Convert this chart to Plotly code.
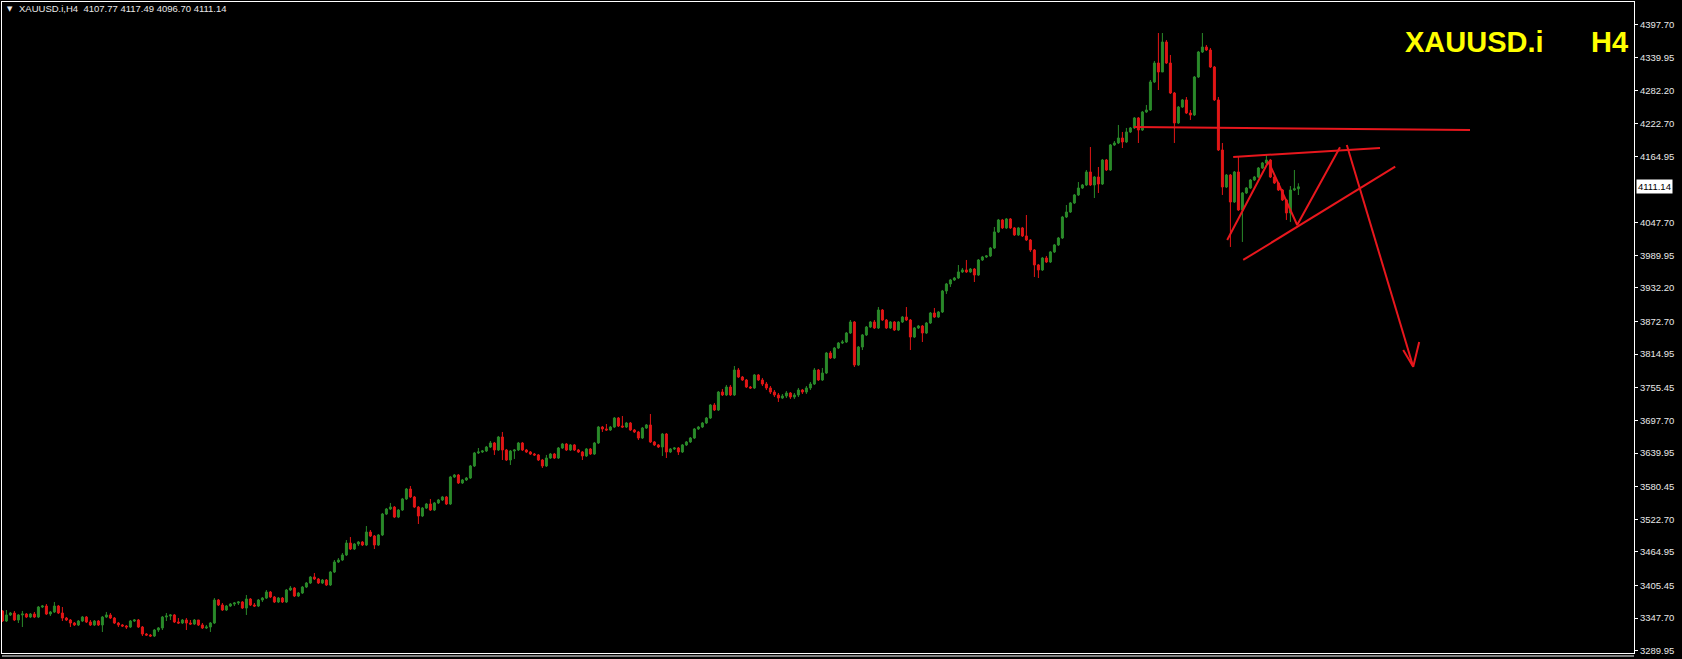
import plotly.graph_objects as go

symbol = "XAUUSD.i"
timeframe = "H4"
header_ohlc = ["4107.77", "4117.49", "4096.70", "4111.14"]
last_price = 4111.14
first_open = 3360.3

closes = [
    3342.5, 3353.2, 3356.7, 3344.3, 3353.2, 3354.9, 3349.6, 3354.9, 3349.6, 3367.3,
    3369.1, 3354.9, 3358.5, 3369.1, 3356.7, 3347.8, 3344.3, 3339.0, 3335.5, 3342.5,
    3349.6, 3340.8, 3335.5, 3342.5, 3335.5, 3349.6, 3353.2, 3347.8, 3339.0, 3335.5,
    3333.7, 3331.9, 3342.5, 3344.3, 3331.9, 3319.5, 3317.7, 3316.0, 3326.6, 3330.2,
    3349.6, 3351.4, 3353.2, 3340.8, 3339.0, 3344.3, 3339.0, 3337.2, 3344.3, 3335.5,
    3330.2, 3331.9, 3339.0, 3379.7, 3370.9, 3362.0, 3369.1, 3372.6, 3374.4, 3376.2,
    3365.5, 3381.5, 3370.9, 3369.1, 3379.7, 3383.2, 3393.9, 3385.0, 3376.2, 3383.2,
    3376.2, 3397.4, 3400.9, 3386.8, 3392.1, 3402.7, 3409.8, 3420.4, 3416.9, 3409.8,
    3415.1, 3406.3, 3429.3, 3447.0, 3450.5, 3459.4, 3480.6, 3470.0, 3478.8, 3482.4,
    3477.1, 3500.1, 3493.0, 3477.1, 3494.8, 3531.9, 3540.8, 3544.3, 3526.6, 3539.0,
    3558.6, 3576.2, 3562.1, 3544.3, 3528.4, 3542.5, 3549.7, 3539.0, 3551.5, 3556.8,
    3562.1, 3549.7, 3597.5, 3601.0, 3586.9, 3592.2, 3595.7, 3617.0, 3640.0, 3641.8,
    3643.5, 3650.6, 3657.7, 3645.3, 3668.3, 3645.3, 3627.6, 3643.5, 3645.3, 3657.7,
    3645.3, 3641.8, 3638.2, 3636.5, 3627.6, 3617.0, 3631.1, 3638.2, 3631.1, 3648.8,
    3655.9, 3645.3, 3654.2, 3645.3, 3641.8, 3634.7, 3647.1, 3638.2, 3657.7, 3686.0,
    3682.5, 3680.7, 3686.0, 3701.9, 3687.8, 3686.0, 3693.1, 3680.7, 3677.2, 3666.5,
    3684.2, 3689.6, 3659.5, 3654.2, 3650.6, 3673.6, 3641.8, 3647.1, 3648.8, 3641.8,
    3654.2, 3659.5, 3666.5, 3682.5, 3686.0, 3693.1, 3701.9, 3724.9, 3716.1, 3747.9,
    3742.7, 3756.8, 3742.7, 3786.9, 3774.5, 3769.2, 3756.8, 3755.1, 3778.1, 3769.2,
    3762.1, 3755.1, 3747.9, 3742.7, 3737.4, 3740.9, 3746.2, 3739.1, 3742.7, 3751.5,
    3747.9, 3755.1, 3762.1, 3786.9, 3769.2, 3781.6, 3817.0, 3808.2, 3825.8, 3834.7,
    3836.5, 3852.4, 3871.9, 3795.8, 3827.6, 3848.9, 3863.0, 3871.9, 3861.3, 3893.1,
    3875.4, 3861.3, 3871.9, 3857.7, 3871.9, 3880.7, 3875.4, 3845.3, 3861.3, 3864.8,
    3852.4, 3870.1, 3887.8, 3880.7, 3889.6, 3926.8, 3939.2, 3946.3, 3949.8, 3960.5,
    3964.0, 3960.5, 3965.7, 3955.1, 3981.7, 3987.0, 3988.8, 4002.9, 4031.3, 4052.5,
    4038.4, 4054.3, 4038.4, 4026.0, 4038.4, 4024.2, 4017.1, 3999.4, 3972.9, 3964.0,
    3985.2, 3978.1, 3995.9, 4008.3, 4020.6, 4057.8, 4066.6, 4082.6, 4096.8, 4109.1,
    4114.4, 4137.5, 4114.4, 4128.6, 4116.2, 4158.7, 4141.0, 4185.3, 4188.8, 4197.6,
    4190.6, 4208.3, 4215.4, 4233.1, 4211.8, 4243.7, 4247.2, 4296.8, 4330.4, 4314.5,
    4367.6, 4330.4, 4277.3, 4224.2, 4252.5, 4265.0, 4241.9, 4238.4, 4305.6, 4349.9,
    4358.7, 4353.4, 4323.3, 4265.0, 4176.4, 4110.9, 4132.1, 4084.3, 4137.5, 4070.2,
    4100.3, 4109.1, 4123.3, 4128.6, 4144.5, 4153.4, 4158.7, 4128.6, 4118.0, 4105.6,
    4087.9, 4064.9, 4105.6, 4107.77, 4111.14,
]

highs = [
    3362.0, 3362.0, 3358.5, 3360.3, 3354.9, 3360.3, 3356.7, 3356.7, 3358.5, 3369.1,
    3370.9, 3372.6, 3360.3, 3376.2, 3370.9, 3367.3, 3349.6, 3346.1, 3340.8, 3344.3,
    3351.4, 3351.4, 3344.3, 3344.3, 3344.3, 3351.4, 3358.5, 3356.7, 3349.6, 3340.8,
    3337.2, 3335.5, 3344.3, 3346.1, 3346.1, 3333.7, 3321.3, 3319.5, 3328.4, 3331.9,
    3351.4, 3356.7, 3354.9, 3354.9, 3347.8, 3346.1, 3347.8, 3344.3, 3346.1, 3344.3,
    3339.0, 3335.5, 3340.8, 3383.2, 3381.5, 3374.4, 3370.9, 3374.4, 3376.2, 3377.9,
    3377.9, 3388.6, 3383.2, 3374.4, 3381.5, 3385.0, 3397.4, 3395.6, 3386.8, 3385.0,
    3385.0, 3399.2, 3404.5, 3402.7, 3393.9, 3404.5, 3411.6, 3422.2, 3427.5, 3418.7,
    3416.9, 3416.9, 3431.0, 3450.5, 3454.0, 3462.9, 3485.9, 3491.2, 3480.6, 3484.1,
    3484.1, 3510.7, 3503.6, 3494.8, 3496.5, 3533.8, 3542.5, 3551.5, 3546.1, 3540.8,
    3560.4, 3578.0, 3581.5, 3563.9, 3546.1, 3544.3, 3551.5, 3558.6, 3553.2, 3558.6,
    3563.9, 3563.9, 3599.3, 3602.8, 3602.8, 3594.0, 3597.5, 3618.7, 3641.8, 3648.8,
    3645.3, 3652.4, 3661.2, 3659.5, 3670.1, 3677.2, 3647.1, 3645.3, 3647.1, 3659.5,
    3659.5, 3647.1, 3643.5, 3640.0, 3638.2, 3629.4, 3636.5, 3640.0, 3640.0, 3650.6,
    3657.7, 3657.7, 3655.9, 3655.9, 3647.1, 3643.5, 3648.8, 3648.8, 3659.5, 3687.8,
    3687.8, 3691.3, 3687.8, 3703.7, 3703.7, 3705.5, 3694.9, 3694.9, 3682.5, 3679.0,
    3686.0, 3691.3, 3709.0, 3661.2, 3655.9, 3675.4, 3675.4, 3648.8, 3650.6, 3650.6,
    3655.9, 3661.2, 3668.3, 3684.2, 3687.8, 3694.9, 3703.7, 3726.6, 3728.4, 3749.7,
    3753.3, 3760.4, 3760.4, 3794.0, 3790.5, 3776.3, 3771.0, 3758.6, 3779.8, 3779.8,
    3772.8, 3765.7, 3758.6, 3751.5, 3746.2, 3744.4, 3749.7, 3747.9, 3746.2, 3755.1,
    3753.3, 3758.6, 3765.7, 3790.5, 3788.7, 3790.5, 3818.8, 3820.5, 3827.6, 3836.5,
    3840.0, 3854.2, 3875.4, 3873.6, 3829.4, 3850.6, 3864.8, 3873.6, 3875.4, 3898.4,
    3894.9, 3877.2, 3873.6, 3873.6, 3873.6, 3882.5, 3898.4, 3877.2, 3863.0, 3866.6,
    3866.6, 3871.9, 3889.6, 3896.7, 3891.3, 3928.6, 3941.0, 3948.1, 3951.6, 3972.8,
    3967.5, 3981.7, 3967.5, 3967.5, 3983.4, 3988.8, 3990.5, 4004.7, 4040.1, 4054.3,
    4054.3, 4056.0, 4056.0, 4040.1, 4040.1, 4040.1, 4061.3, 4018.8, 4001.1, 3974.6,
    3987.0, 3988.8, 3997.6, 4010.0, 4022.4, 4059.6, 4079.0, 4084.3, 4098.5, 4119.7,
    4116.2, 4141.0, 4181.7, 4130.4, 4146.3, 4160.5, 4160.5, 4187.0, 4192.3, 4220.7,
    4208.3, 4215.4, 4217.1, 4234.8, 4234.8, 4245.5, 4256.1, 4300.3, 4334.0, 4383.5,
    4383.5, 4371.1, 4344.6, 4279.1, 4254.3, 4266.7, 4270.2, 4247.2, 4307.4, 4351.7,
    4383.5, 4362.3, 4357.0, 4325.1, 4270.2, 4188.8, 4133.9, 4133.9, 4139.2, 4164.0,
    4102.0, 4110.9, 4125.1, 4130.4, 4146.3, 4155.2, 4167.6, 4160.5, 4130.4, 4119.7,
    4107.4, 4089.7, 4112.6, 4141.0, 4117.49,
]

lows = [
    3340.8, 3340.8, 3351.4, 3342.5, 3339.0, 3331.9, 3347.8, 3347.8, 3347.8, 3347.8,
    3365.5, 3353.2, 3351.4, 3356.7, 3354.9, 3342.5, 3342.5, 3331.9, 3333.7, 3333.7,
    3340.8, 3339.0, 3333.7, 3333.7, 3333.7, 3323.1, 3347.8, 3346.1, 3337.2, 3331.9,
    3331.9, 3328.4, 3330.2, 3340.8, 3330.2, 3316.0, 3316.0, 3314.2, 3314.2, 3323.1,
    3326.6, 3342.5, 3344.3, 3339.0, 3337.2, 3337.2, 3326.6, 3335.5, 3335.5, 3333.7,
    3328.4, 3328.4, 3323.1, 3337.2, 3369.1, 3360.3, 3360.3, 3367.3, 3369.1, 3370.9,
    3363.8, 3353.2, 3369.1, 3367.3, 3367.3, 3376.2, 3381.5, 3383.2, 3374.4, 3374.4,
    3374.4, 3374.4, 3395.6, 3385.0, 3385.0, 3390.3, 3400.9, 3408.0, 3415.1, 3408.0,
    3408.0, 3404.5, 3404.5, 3427.5, 3445.2, 3448.7, 3457.6, 3468.2, 3468.2, 3475.3,
    3475.3, 3475.3, 3491.2, 3470.0, 3475.3, 3493.0, 3530.1, 3539.0, 3524.8, 3524.8,
    3537.3, 3556.8, 3560.4, 3542.5, 3514.3, 3526.6, 3540.8, 3537.3, 3537.3, 3549.7,
    3555.0, 3547.9, 3547.9, 3595.7, 3585.1, 3585.1, 3590.4, 3594.0, 3615.2, 3638.2,
    3640.0, 3641.8, 3648.8, 3636.5, 3643.5, 3627.6, 3625.8, 3618.7, 3629.4, 3643.5,
    3643.5, 3640.0, 3636.5, 3634.7, 3625.8, 3613.4, 3615.2, 3629.4, 3629.4, 3629.4,
    3647.1, 3643.5, 3643.5, 3643.5, 3640.0, 3627.6, 3632.9, 3636.5, 3636.5, 3655.9,
    3677.2, 3679.0, 3679.0, 3684.2, 3686.0, 3684.2, 3684.2, 3679.0, 3675.4, 3663.0,
    3664.8, 3682.5, 3657.7, 3652.4, 3648.8, 3634.7, 3631.1, 3640.0, 3645.3, 3636.5,
    3640.0, 3652.4, 3657.7, 3664.8, 3680.7, 3684.2, 3691.3, 3700.2, 3714.3, 3714.3,
    3740.9, 3740.9, 3740.9, 3740.9, 3772.8, 3767.5, 3755.1, 3753.3, 3753.3, 3767.5,
    3758.6, 3751.5, 3744.4, 3739.1, 3730.3, 3735.6, 3737.4, 3735.6, 3735.6, 3739.1,
    3744.4, 3744.4, 3751.5, 3760.4, 3767.5, 3767.5, 3779.8, 3806.4, 3806.4, 3824.1,
    3832.9, 3834.7, 3850.6, 3792.2, 3794.0, 3822.3, 3847.1, 3861.3, 3859.5, 3859.5,
    3873.6, 3859.5, 3859.5, 3856.0, 3856.0, 3870.1, 3873.6, 3822.3, 3843.5, 3859.5,
    3836.5, 3850.6, 3868.3, 3879.0, 3879.0, 3887.8, 3921.5, 3933.9, 3944.5, 3948.1,
    3958.7, 3958.7, 3958.7, 3942.7, 3953.4, 3979.9, 3985.2, 3987.0, 4001.1, 4029.5,
    4036.6, 4036.6, 4036.6, 4024.2, 4024.2, 4022.4, 4015.3, 3995.9, 3951.6, 3949.8,
    3962.2, 3976.3, 3976.3, 3994.1, 4006.4, 4018.8, 4056.0, 4064.9, 4080.8, 4095.0,
    4107.4, 4112.6, 4112.6, 4091.4, 4100.3, 4114.4, 4139.2, 4139.2, 4183.5, 4187.0,
    4179.9, 4188.8, 4206.5, 4213.6, 4188.8, 4210.0, 4241.9, 4245.5, 4295.0, 4282.6,
    4316.7, 4328.6, 4275.5, 4188.8, 4222.4, 4250.8, 4240.1, 4229.5, 4236.6, 4303.9,
    4348.1, 4351.7, 4321.6, 4263.2, 4174.6, 4096.8, 4109.1, 4004.7, 4082.6, 4068.4,
    4013.6, 4098.5, 4107.4, 4121.5, 4126.8, 4142.8, 4151.6, 4126.8, 4116.2, 4103.8,
    4086.1, 4052.5, 4049.0, 4103.8, 4096.70,
]

tick_labels = ["4397.70", "4339.95", "4282.20", "4222.70", "4164.95",
               "4047.70", "3989.95", "3932.20", "3872.70", "3814.95", "3755.45",
               "3697.70", "3639.95", "3580.45", "3522.70", "3464.95", "3405.45",
               "3347.70", "3289.95"]

# hand-drawn analysis lines (bar index, price)
hline_x = [282.9, 366.9]
hline_y = [4217.1, 4211.8]
upper_x = [307.7, 344.4]
upper_y = [4164.0, 4180.0]
support_x = [310.2, 348.2]
support_y = [3981.7, 4146.8]
zigzag_x = [306.2, 316.5, 323.7, 334.4]
zigzag_y = [4017.1, 4155.7, 4043.6, 4181.2]
arrow_x = [336.1, 352.7]
arrow_y = [4185.3, 3792.8]
arrowhead_x = [350.2, 352.7, 354.2]
arrowhead_y = [3822.3, 3792.8, 3836.5]

x_range = [-0.1, 407.9]
y_range = [3285.9, 4438.4]

opens = [first_open] + closes[:-1]
opens[-1] = float(header_ohlc[0])
bar_x = list(range(len(closes)))
hi = [max(h, o, c) for h, o, c in zip(highs, opens, closes)]
lo = [min(l, o, c) for l, o, c in zip(lows, opens, closes)]

GREEN = "#2a8a2a"
RED = "#e31616"
LINE_RED = "#e8171d"

fig = go.Figure()
fig.add_trace(go.Candlestick(
    x=bar_x, open=opens, high=hi, low=lo, close=closes,
    increasing=dict(line=dict(color=GREEN, width=1), fillcolor=GREEN),
    decreasing=dict(line=dict(color=RED, width=1), fillcolor=RED),
    whiskerwidth=0, hoverinfo="skip",
))

for lx, ly in [(hline_x, hline_y), (upper_x, upper_y), (support_x, support_y),
               (zigzag_x, zigzag_y), (arrow_x, arrow_y), (arrowhead_x, arrowhead_y)]:
    fig.add_trace(go.Scatter(x=lx, y=ly, mode="lines",
                             line=dict(color=LINE_RED, width=2), hoverinfo="skip"))

fig.update_layout(
    width=1682, height=659,
    margin=dict(l=2, r=48, t=2, b=6),
    paper_bgcolor="#000000", plot_bgcolor="#000000",
    showlegend=False, hovermode=False,
    xaxis=dict(range=x_range, showgrid=False, zeroline=False, showticklabels=False,
               rangeslider=dict(visible=False), showline=True, mirror=True,
               linecolor="#ffffff", linewidth=1, ticks=""),
    yaxis=dict(range=y_range, side="right", showgrid=False, zeroline=False,
               tickmode="array", tickvals=[float(t) for t in tick_labels], ticktext=tick_labels,
               ticks="outside", ticklen=3, tickcolor="#ffffff",
               tickfont=dict(family="Liberation Sans", size=9.5, color="#e8e8e8"),
               showline=True, mirror=True, linecolor="#ffffff", linewidth=1),
    shapes=[dict(type="line", xref="paper", yref="paper", x0=0, x1=1,
                 y0=-0.0046, y1=-0.0046, line=dict(color="#ffffff", width=1))],
    annotations=[
        dict(text="▼", xref="paper", yref="paper", x=0.0018, y=0.9895,
             xanchor="left", yanchor="middle", showarrow=False,
             font=dict(family="DejaVu Sans", size=7, color="#e8e8e8")),
        dict(text=f"{symbol},{timeframe}  " + " ".join(header_ohlc),
             xref="paper", yref="paper", x=0.0092, y=0.9895,
             xanchor="left", yanchor="middle", showarrow=False,
             font=dict(family="Liberation Sans", size=9.5, color="#e8e8e8")),
        dict(text=f"<b>{symbol}</b>", xref="paper", yref="paper", x=0.8585, y=0.9386,
             xanchor="left", yanchor="middle", showarrow=False,
             font=dict(family="Liberation Sans", size=29, color="#ffff00")),
        dict(text=f"<b>{timeframe}</b>", xref="paper", yref="paper", x=0.9975, y=0.9386,
             xanchor="right", yanchor="middle", showarrow=False,
             font=dict(family="Liberation Sans", size=29, color="#ffff00")),
        dict(text=f"{last_price:.2f}", xref="paper", yref="y", x=1, y=last_price,
             xanchor="left", yanchor="middle", xshift=2, showarrow=False,
             bgcolor="#ffffff", borderpad=1,
             font=dict(family="Liberation Sans", size=9.5, color="#000000")),
    ],
)

fig.write_html("out.html", config={"displayModeBar": False},
               post_script="document.body.style.margin='0';document.body.style.overflow='hidden';")
